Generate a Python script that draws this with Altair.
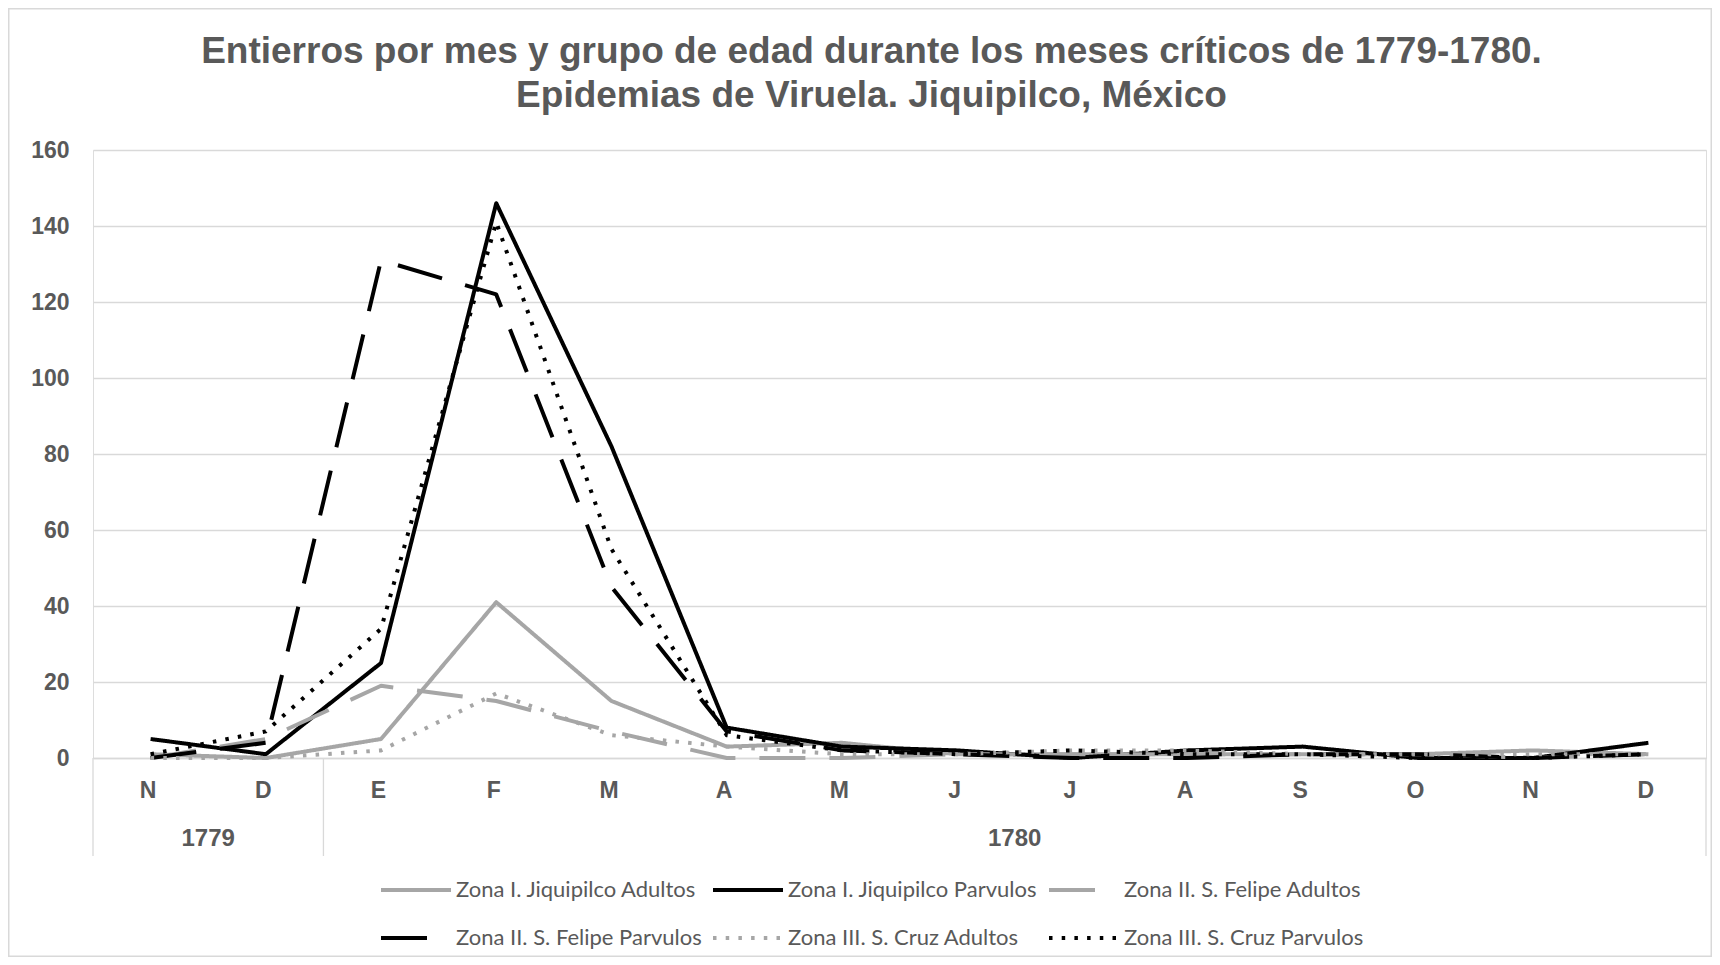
import altair as alt
import pandas as pd

# ---- data ----
months = ["N", "D", "E", "F", "M", "A", "M", "J", "J", "A", "S", "O", "N", "D"]
years = ["1779", "1779"] + ["1780"] * 12

series_names = [
    "Zona I. Jiquipilco Adultos",
    "Zona I. Jiquipilco Parvulos",
    "Zona II. S. Felipe Adultos",
    "Zona II. S. Felipe Parvulos",
    "Zona III. S. Cruz Adultos",
    "Zona III. S. Cruz Parvulos",
]
zona1_adultos = [1, 0, 5, 41, 15, 3, 4, 1, 1, 1, 1, 1, 2, 1]
zona1_parvulos = [5, 1, 25, 146, 82, 8, 3, 2, 0, 2, 3, 0, 0, 4]
zona2_adultos = [0, 5, 19, 15, 7, 0, 0, 1, 1, 1, 1, 1, 0, 1]
zona2_parvulos = [0, 4, 131, 122, 45, 7, 2, 1, 0, 0, 1, 1, 0, 1]
zona3_adultos = [0, 0, 2, 17, 6, 3, 1, 1, 2, 2, 1, 1, 1, 1]
zona3_parvulos = [1, 7, 34, 141, 55, 6, 2, 1, 2, 1, 1, 0, 0, 1]
y_ticks = [0, 20, 40, 60, 80, 100, 120, 140, 160]

series_values = [zona1_adultos, zona1_parvulos, zona2_adultos,
                 zona2_parvulos, zona3_adultos, zona3_parvulos]

# ---- styles ----
GRAY = "#a6a6a6"
BLACK = "#000000"
TEXT = "#595959"
GRID = "#d9d9d9"
series_colors = [GRAY, BLACK, GRAY, BLACK, GRAY, BLACK]
SOLID = [1, 0]
LONG_DASH = [46, 24]
DOTS = [3.5, 9.2]
series_dashes = [SOLID, SOLID, LONG_DASH, LONG_DASH, DOTS, DOTS]

# ---- tables ----
rows = []
for name, vals in zip(series_names, series_values):
    for i, v in enumerate(vals):
        rows.append({"idx": i, "mes": months[i], "anio": years[i],
                     "serie": name, "valor": v})
df = pd.DataFrame(rows)

cat = pd.DataFrame({"idx": list(range(len(months))), "anio": years})
year_df = cat.groupby("anio")["idx"].agg(["mean", "min", "max"]).reset_index()
year_df = year_df.rename(columns={"mean": "idx"})
seps = sorted(set([v - 0.5 for v in year_df["min"]] + [v + 0.5 for v in year_df["max"]]))
sep_df = pd.DataFrame({"idx": seps})

W, H = 1613, 608
PAD = {"left": 85, "top": 142, "right": 6, "bottom": 199}

label_expr = "[" + ",".join("'%s'" % m for m in months) + "][datum.value]"
xscale = alt.Scale(domain=[-0.5, len(months) - 0.5], nice=False, zero=False)
xaxis = alt.Axis(values=list(range(len(months))), labelExpr=label_expr, title=None,
                 grid=False, ticks=False, domain=True, domainColor=GRID, domainWidth=1.3,
                 labelFont="Liberation Sans", labelFontWeight="bold", labelFontSize=23,
                 labelColor=TEXT, labelPadding=21, labelAngle=0, labelOffset=-3)

x_enc = alt.X("idx:Q", scale=xscale, axis=xaxis)

legend = alt.Legend(
    title=None, orient="none", legendX=286, legendY=703, direction="horizontal",
    columns=3, symbolType="stroke", symbolSize=4900,
    symbolStrokeWidth=4, labelFont="Lato", labelFontSize=22, labelLimit=500,
    labelColor=TEXT, labelOffset=3, columnPadding=3,
    rowPadding=-30, padding=0)

lines = alt.Chart(df).mark_line(strokeWidth=4, strokeCap="butt", strokeJoin="round").encode(
    x=x_enc,
    y=alt.Y("valor:Q", scale=alt.Scale(domain=[0, 160], nice=False),
            axis=alt.Axis(values=y_ticks, title=None, ticks=False, domain=False,
                          gridColor=GRID, gridWidth=1.3,
                          labelFont="Liberation Sans", labelFontWeight="bold",
                          labelFontSize=23, labelColor=TEXT, labelPadding=24)),
    color=alt.Color("serie:N", scale=alt.Scale(domain=series_names, range=series_colors),
                    legend=legend),
    strokeDash=alt.StrokeDash("serie:N", scale=alt.Scale(domain=series_names, range=series_dashes),
                              legend=legend),
    order=alt.Order("idx:Q"),
)

separators = alt.Chart(sep_df).mark_rule(color=GRID, strokeWidth=1.3).encode(
    x=x_enc,
    y=alt.value(H),
    y2=alt.value(H + 98),
)

year_text = alt.Chart(year_df).mark_text(
    font="Liberation Sans", fontWeight="bold", fontSize=24, color=TEXT, baseline="middle"
).encode(
    x=x_enc,
    y=alt.value(H + 81),
    text="anio:N",
)

border = alt.Chart(pd.DataFrame({"a": [0]})).mark_rect(
    fill=None, stroke=GRID, strokeWidth=1.5
).encode(
    x=alt.value(-PAD["left"] + 0.75),
    x2=alt.value(W + PAD["right"] - 0.75),
    y=alt.value(-PAD["top"] + 0.75),
    y2=alt.value(H + PAD["bottom"] - 0.75),
)

chart = alt.layer(border, separators, year_text, lines).properties(
    width=W, height=H,
    autosize=alt.AutoSizeParams(type="none"),
    padding=PAD,
    title=alt.TitleParams(
        text=["Entierros por mes y grupo de edad durante los meses críticos de 1779-1780.",
              "Epidemias de Viruela. Jiquipilco, México"],
        font="Liberation Sans", fontSize=37, fontWeight="bold", color=TEXT,
        lineHeight=44, anchor="middle", dx=-28, dy=107, offset=0,
    ),
).configure_view(stroke=None).configure(background="white")

chart.save("out.html", embed_options={"renderer": "svg", "actions": False})
